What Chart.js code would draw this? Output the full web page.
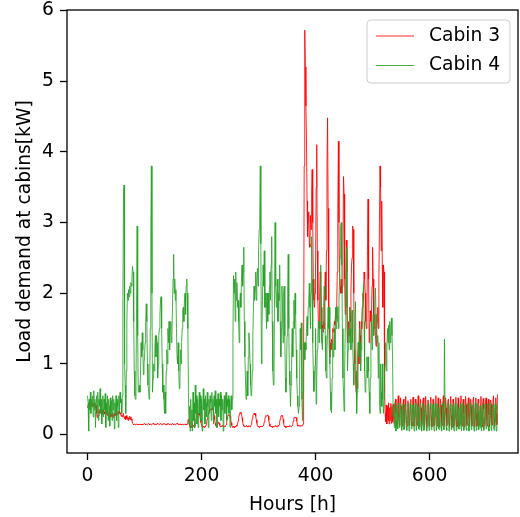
<!DOCTYPE html>
<html>
<head>
<meta charset="utf-8">
<script src="https://cdn.jsdelivr.net/npm/chart.js@4.4.0/dist/chart.umd.min.js"></script>
<style>
  html, body { margin: 0; padding: 0; background: #fff; }
  #wrap { width: 520px; height: 517px; }
</style>
</head>
<body>
<div id="wrap"><canvas id="chart" width="520" height="517"></canvas></div>
<script>
// hourly load, one line per day (24 values)
const cabin3 = [
  0.38,0.42,0.45,0.4,0.44,0.41,0.46,0.4,0.43,0.39,0.44,0.42,0.4,0.45,0.38,0.42,0.3,0.24,0.28,0.26,0.34,0.3,0.36,0.31,
  0.33,0.28,0.35,0.3,0.36,0.32,0.29,0.34,0.31,0.3,0.35,0.27,0.3,0.28,0.22,0.27,0.3,0.25,0.29,0.26,0.31,0.24,0.28,0.3,
  0.27,0.3,0.26,0.32,0.29,0.28,0.33,0.3,0.34,0.29,0.31,0.26,0.28,0.25,0.27,0.3,0.24,0.22,0.26,0.21,0.27,0.23,0.25,0.2,
  0.24,0.22,0.26,0.21,0.25,0.22,0.2,0.16,0.15,0.14,0.15,0.15,0.14,0.15,0.15,0.14,0.15,0.15,0.14,0.15,0.14,0.15,0.15,0.14,
  0.15,0.14,0.15,0.15,0.16,0.15,0.14,0.15,0.15,0.14,0.15,0.16,0.15,0.14,0.15,0.15,0.14,0.15,0.15,0.16,0.15,0.14,0.15,0.15,
  0.14,0.15,0.15,0.16,0.15,0.15,0.14,0.15,0.16,0.15,0.15,0.14,0.15,0.15,0.16,0.15,0.14,0.15,0.15,0.14,0.15,0.16,0.15,0.15,
  0.14,0.15,0.15,0.14,0.15,0.16,0.15,0.14,0.15,0.15,0.14,0.15,0.15,0.16,0.15,0.14,0.15,0.15,0.14,0.15,0.15,0.14,0.15,0.15,
  0.14,0.15,0.15,0.14,0.15,0.15,0.14,0.15,0.2,0.22,0.16,0.12,0.1,0.11,0.12,0.1,0.11,0.13,0.12,0.1,0.11,0.15,0.2,0.24,
  0.26,0.29,0.3,0.28,0.3,0.27,0.22,0.17,0.13,0.11,0.1,0.12,0.11,0.1,0.12,0.11,0.14,0.18,0.22,0.26,0.3,0.33,0.35,0.34,
  0.36,0.37,0.35,0.36,0.38,0.33,0.27,0.21,0.16,0.13,0.11,0.12,0.14,0.16,0.18,0.16,0.13,0.11,0.12,0.11,0.13,0.12,0.11,0.12,
  0.12,0.11,0.13,0.14,0.18,0.22,0.26,0.28,0.27,0.28,0.26,0.22,0.17,0.13,0.11,0.1,0.12,0.11,0.1,0.12,0.11,0.13,0.12,0.15,
  0.19,0.24,0.28,0.31,0.3,0.32,0.29,0.24,0.18,0.14,0.12,0.11,0.12,0.11,0.12,0.13,0.11,0.12,0.11,0.13,0.12,0.11,0.12,0.14,
  0.18,0.23,0.27,0.29,0.3,0.28,0.3,0.26,0.21,0.16,0.12,0.11,0.12,0.1,0.11,0.12,0.11,0.12,0.11,0.12,0.13,0.14,0.18,0.22,
  0.25,0.27,0.26,0.27,0.28,0.26,0.2,0.15,0.12,0.11,0.12,0.11,0.1,0.12,0.11,0.12,0.11,0.12,0.13,0.11,0.12,0.11,0.13,0.12,
  0.14,0.18,0.22,0.26,0.27,0.26,0.27,0.22,0.16,0.12,0.11,0.12,0.1,0.11,0.12,0.11,0.12,0.11,0.12,0.13,0.12,0.11,0.12,0.13,
  0.15,0.19,0.23,0.25,0.24,0.25,0.24,0.19,0.14,0.12,0.13,0.12,0.13,0.12,0.13,0.12,0.13,0.13,0.15,1.2,3.8,5.72,5.2,4.65,
  4.2,3.3,2.8,3.0,3.15,2.7,2.65,3.1,2.9,3.4,3.75,3.0,2.2,1.9,1.8,2.0,2.4,3.5,4.1,2.6,1.9,1.55,1.5,1.9,
  2.3,2.2,1.8,1.5,1.55,1.45,1.6,1.5,2.0,2.3,1.9,2.6,3.8,4.48,3.2,1.8,1.2,1.1,1.3,1.2,1.35,1.3,1.5,1.45,
  1.5,1.6,1.55,1.7,1.65,1.8,2.3,3.2,4.15,3.0,2.3,2.1,2.0,2.2,2.0,2.1,2.6,3.65,3.4,2.2,1.7,1.8,2.75,2.3,
  1.3,1.5,1.6,1.4,1.8,1.6,2.0,2.4,2.5,2.95,2.9,2.0,1.2,1.0,0.8,0.6,0.75,0.65,1.1,1.3,1.0,1.6,1.4,1.2,
  1.6,1.5,1.8,2.0,1.9,2.3,2.2,2.0,1.6,1.5,1.7,2.6,3.33,2.2,1.3,1.5,1.75,1.6,1.7,2.1,2.65,2.2,1.6,1.5,
  1.7,1.4,1.25,1.5,1.6,1.8,1.5,2.2,3.0,3.8,3.5,2.6,3.3,2.4,1.8,2.4,2.3,0.6,0.3,0.18,0.42,0.15,0.4,0.2,
  0.45,0.15,0.38,0.2,0.44,0.16,0.4,0.18,0.43,0.22,0.15,0.35,0.5,0.3,0.12,0.2,0.45,0.55,0.25,0.13,0.3,0.52,0.4,0.15,
  0.12,0.35,0.5,0.28,0.14,0.42,0.54,0.2,0.11,0.25,0.48,0.35,0.13,0.16,0.45,0.5,0.18,0.12,0.38,0.53,0.3,0.12,0.2,0.5,
  0.42,0.15,0.13,0.4,0.55,0.22,0.11,0.3,0.5,0.38,0.12,0.18,0.47,0.52,0.2,0.12,0.35,0.54,0.28,0.1,0.22,0.49,0.45,0.14,
  0.12,0.4,0.53,0.25,0.11,0.3,0.5,0.4,0.13,0.17,0.46,0.55,0.2,0.12,0.36,0.52,0.3,0.11,0.24,0.5,0.42,0.14,0.13,0.43,
  0.55,0.22,0.12,0.3,0.52,0.38,0.12,0.19,0.48,0.5,0.17,0.12,0.4,0.54,0.27,0.1,0.25,0.5,0.44,0.13,0.15,0.45,0.53,0.2,
  0.11,0.33,0.52,0.36,0.12,0.2,0.47,0.55,0.22,0.12,0.38,0.5,0.3,0.11,0.26,0.54,0.43,0.14,0.13,0.42,0.52,0.24,0.12,0.32,
  0.5,0.4,0.12,0.18,0.48,0.53,0.19,0.11,0.37,0.52,0.3,0.12,0.23,0.5,0.45,0.13,0.16,0.44,0.54,0.21,0.11,0.34,0.51,0.36,
  0.12,0.2,0.47,0.52,0.2,0.12,0.4,0.5,0.28,0.11,0.25,0.49,0.43,0.13,0.15,0.46,0.55,0.22,0.12,0.35,0.52,0.3,0.14,0.57
];

const cabin4 = [
  0.55,0.45,0.05,0.5,0.35,0.6,0.3,0.5,0.4,0.55,0.25,0.62,0.35,0.5,0.1,0.45,0.55,0.3,0.6,0.2,0.5,0.4,0.65,0.3,
  0.5,0.15,0.45,0.55,0.25,0.5,0.35,0.58,0.1,0.45,0.3,0.55,0.2,0.5,0.4,0.12,0.52,0.3,0.48,0.2,0.55,0.35,0.5,0.08,
  0.45,0.3,0.55,0.2,0.5,0.4,0.1,0.55,0.35,0.6,0.45,0.5,0.3,0.55,1.8,3.4,3.53,1.0,0.7,0.3,0.9,1.6,2.0,1.9,
  2.05,1.95,2.1,2.0,2.15,2.1,2.25,2.38,2.3,1.6,0.9,0.55,0.5,0.7,1.8,2.95,1.4,0.6,0.65,0.7,0.6,0.9,1.3,1.1,
  1.44,1.2,0.85,1.0,1.1,1.3,1.6,1.85,1.6,1.0,0.7,0.65,0.5,0.6,1.5,2.85,3.8,2.0,0.6,0.8,1.0,0.9,1.2,1.4,
  1.1,1.4,1.3,0.8,1.0,1.4,1.5,1.7,1.9,1.95,1.5,1.0,0.6,0.7,0.5,0.3,0.6,0.3,0.9,1.2,1.0,1.5,1.3,1.6,
  1.2,1.5,1.6,1.3,1.4,1.8,2.2,2.55,2.0,2.2,1.9,2.05,1.5,1.1,1.0,1.3,0.9,0.65,0.7,1.2,1.0,1.3,1.5,1.75,
  1.8,1.6,1.9,2.0,1.7,2.1,2.2,2.0,1.5,0.6,0.15,0.4,0.05,0.5,0.1,0.35,0.05,0.6,0.2,0.45,0.1,0.7,0.3,0.55,
  0.15,0.5,0.1,0.45,0.6,0.3,0.55,0.2,0.5,0.05,0.4,0.65,0.35,0.5,0.15,0.55,0.45,0.25,0.6,0.4,0.1,0.5,0.3,0.55,
  0.45,0.2,0.6,0.35,0.5,0.15,0.55,0.4,0.62,0.3,0.5,0.1,0.45,0.58,0.25,0.5,0.4,0.6,0.2,0.55,0.35,0.5,0.05,0.45,
  0.55,0.3,0.5,0.6,0.2,0.5,0.4,0.55,0.3,0.5,0.1,0.45,0.55,0.35,0.5,1.3,2.25,2.0,2.2,1.6,2.3,1.9,2.15,1.8,
  1.9,1.6,1.3,1.85,2.0,1.8,2.2,2.4,2.1,2.3,2.65,1.6,1.1,0.8,0.5,0.6,0.9,0.55,1.1,1.44,1.3,1.0,0.7,0.55,
  0.6,0.9,1.4,1.8,2.1,1.9,2.05,2.3,1.9,2.2,2.35,2.1,2.6,2.9,3.1,3.8,2.7,1.0,1.5,2.0,2.4,2.1,2.6,1.8,
  2.0,1.8,1.5,2.0,1.6,2.0,1.7,2.1,2.3,1.9,2.4,2.8,1.6,0.9,0.7,0.8,2.0,3.0,2.1,1.8,2.0,2.2,1.6,2.0,
  1.9,2.4,1.6,1.1,1.5,2.1,1.8,1.3,2.0,2.1,1.4,0.8,0.6,0.9,1.4,2.0,2.55,1.5,0.9,0.7,0.4,0.7,1.2,1.5,
  1.1,1.6,1.9,1.5,2.0,1.7,1.2,0.8,0.55,0.4,0.3,0.4,0.9,1.5,1.2,1.58,0.5,0.2,0.6,1.0,1.3,1.06,1.3,1.2,
  1.5,1.67,1.4,1.8,1.9,2.14,1.8,1.5,2.0,2.8,2.2,1.3,0.9,0.61,0.8,0.98,1.5,0.43,0.8,1.2,1.4,1.6,1.3,1.6,
  1.5,2.4,1.5,1.3,1.2,1.5,1.8,2.1,1.99,1.4,0.9,0.8,1.2,1.5,1.8,1.5,1.8,1.0,0.6,0.35,0.31,0.8,1.3,1.1,
  1.3,1.5,1.2,1.8,1.5,1.8,1.6,1.81,1.5,1.9,2.2,2.5,2.94,3.0,2.4,1.5,0.8,0.6,0.33,0.9,1.5,2.0,2.65,1.8,
  0.9,1.2,1.5,1.3,1.8,1.5,1.2,1.6,1.76,1.3,1.0,0.7,1.2,1.6,1.88,0.9,0.3,0.6,1.0,1.3,1.1,1.5,1.3,0.9,
  1.2,1.5,1.8,1.9,2.14,1.6,0.9,0.6,0.7,0.9,1.1,0.8,1.1,0.9,0.6,0.3,0.8,1.3,1.6,1.2,1.5,1.7,1.4,1.6,
  1.8,2.07,1.7,1.5,1.3,1.4,0.8,1.3,0.5,0.3,1.0,0.6,0.4,1.0,0.5,0.3,0.5,0.9,1.0,1.3,0.9,1.2,1.5,1.3,
  1.55,1.2,1.6,1.3,1.5,1.65,1.4,1.1,0.25,0.4,0.1,0.45,0.2,0.05,0.42,0.3,0.08,0.4,0.45,0.1,0.15,0.43,0.35,0.06,
  0.2,0.44,0.3,0.07,0.12,0.42,0.4,0.1,0.06,0.35,0.45,0.15,0.05,0.25,0.44,0.3,0.08,0.1,0.4,0.42,0.12,0.05,0.3,0.45,
  0.25,0.06,0.15,0.43,0.38,0.08,0.07,0.36,0.44,0.18,0.05,0.22,0.45,0.32,0.06,0.1,0.41,0.4,0.1,0.05,0.33,0.45,0.2,0.06,
  0.18,0.44,0.35,0.07,0.09,0.4,0.43,0.12,0.05,0.3,0.45,0.25,0.06,0.14,0.43,0.38,0.08,0.07,0.37,0.44,0.16,0.05,0.24,0.45,
  0.3,0.07,1.35,0.4,0.41,0.1,0.06,0.34,0.45,0.2,0.05,0.2,0.44,0.33,0.07,0.11,0.42,0.4,0.1,0.05,0.32,0.45,0.22,0.06,
  0.16,0.43,0.37,0.08,0.08,0.39,0.44,0.14,0.05,0.28,0.45,0.27,0.06,0.13,0.42,0.39,0.09,0.06,0.36,0.44,0.17,0.05,0.23,0.45,
  0.31,0.07,0.1,0.41,0.42,0.11,0.05,0.33,0.45,0.21,0.06,0.19,0.44,0.34,0.07,0.12,0.4,0.41,0.1,0.05,0.3,0.45,0.24,0.06,
  0.15,0.43,0.38,0.08,0.09,0.38,0.44,0.13,0.05,0.27,0.45,0.28,0.06,0.12,0.42,0.4,0.09,0.06,0.35,0.44,0.18,0.05,0.3,0.42
];

const seriesNames = ['Cabin 3', 'Cabin 4'];
const xTicks = [0, 200, 400, 600];
const yTicks = [0, 1, 2, 3, 4, 5, 6];

const FONT = "'DejaVu Sans', sans-serif";
const FSIZE = 18.7;
const RED = 'rgba(255,0,0,0.85)';
const GREEN = 'rgba(44,160,44,0.85)';

const toPoints = arr => arr.map((v, i) => ({ x: i, y: v }));

// matplotlib style box around the plot area
const framePlugin = {
  id: 'frame',
  afterDraw(chart) {
    const { ctx, chartArea: a } = chart;
    ctx.save();
    ctx.strokeStyle = '#000';
    ctx.lineWidth = 1.3;
    ctx.strokeRect(a.left, a.top, a.right - a.left, a.bottom - a.top);
    ctx.restore();
  }
};

// legend box in upper right corner
const legendPlugin = {
  id: 'mplLegend',
  afterDraw(chart) {
    const ctx = chart.ctx;
    const x = 367, y = 20, w = 143, h = 63, r = 4;
    ctx.save();
    ctx.beginPath();
    ctx.roundRect(x, y, w, h, r);
    ctx.fillStyle = 'rgba(255,255,255,0.8)';
    ctx.fill();
    ctx.strokeStyle = '#cccccc';
    ctx.lineWidth = 1;
    ctx.stroke();
    ctx.font = FSIZE + 'px ' + FONT;
    ctx.textBaseline = 'middle';
    ctx.fillStyle = '#000';
    chart.data.datasets.forEach((ds, i) => {
      const cy = 36 + i * 29.5;
      ctx.beginPath();
      ctx.moveTo(376, cy);
      ctx.lineTo(414, cy);
      ctx.strokeStyle = ds.borderColor;
      ctx.lineWidth = 1.2;
      ctx.stroke();
      ctx.fillText(ds.label, 429, cy);
    });
    ctx.restore();
  }
};

const tickGrid = {
  display: true,
  drawOnChartArea: false,
  drawTicks: true,
  tickLength: 7,
  tickColor: '#000',
  tickWidth: 1.3
};

new Chart(document.getElementById('chart'), {
  type: 'line',
  data: {
    datasets: [
      { label: seriesNames[0], data: toPoints(cabin3), borderColor: RED, borderWidth: 1, pointRadius: 0, tension: 0, order: 2 },
      { label: seriesNames[1], data: toPoints(cabin4), borderColor: GREEN, borderWidth: 1, pointRadius: 0, tension: 0, order: 1 }
    ]
  },
  options: {
    responsive: false,
    animation: false,
    layout: { padding: { top: 10, right: 2, left: 0, bottom: 0 } },
    plugins: { legend: { display: false }, tooltip: { enabled: false } },
    scales: {
      x: {
        type: 'linear',
        min: -36,
        max: 755,
        afterBuildTicks: s => { s.ticks = xTicks.map(v => ({ value: v })); },
        afterFit: s => { s.height = 64; s.paddingLeft = 0; s.paddingRight = 0; },
        grid: tickGrid,
        border: { display: false },
        ticks: { color: '#000', font: { family: FONT, size: FSIZE }, padding: 5, maxRotation: 0, autoSkip: false },
        title: { display: true, text: 'Hours [h]', color: '#000', font: { family: FONT, size: FSIZE }, padding: { top: 0, bottom: 1 } }
      },
      y: {
        min: -0.26,
        max: 6.005,
        afterBuildTicks: s => { s.ticks = yTicks.map(v => ({ value: v })); },
        afterFit: s => { s.width = 67; s.paddingTop = 0; s.paddingBottom = 0; },
        grid: tickGrid,
        border: { display: false },
        ticks: { color: '#000', font: { family: FONT, size: FSIZE }, padding: 6 },
        title: { display: true, text: 'Load demand at cabins[kW]', color: '#000', font: { family: FONT, size: FSIZE }, padding: { top: 14, bottom: 0 } }
      }
    }
  },
  plugins: [framePlugin, legendPlugin]
});
</script>
</body>
</html>
